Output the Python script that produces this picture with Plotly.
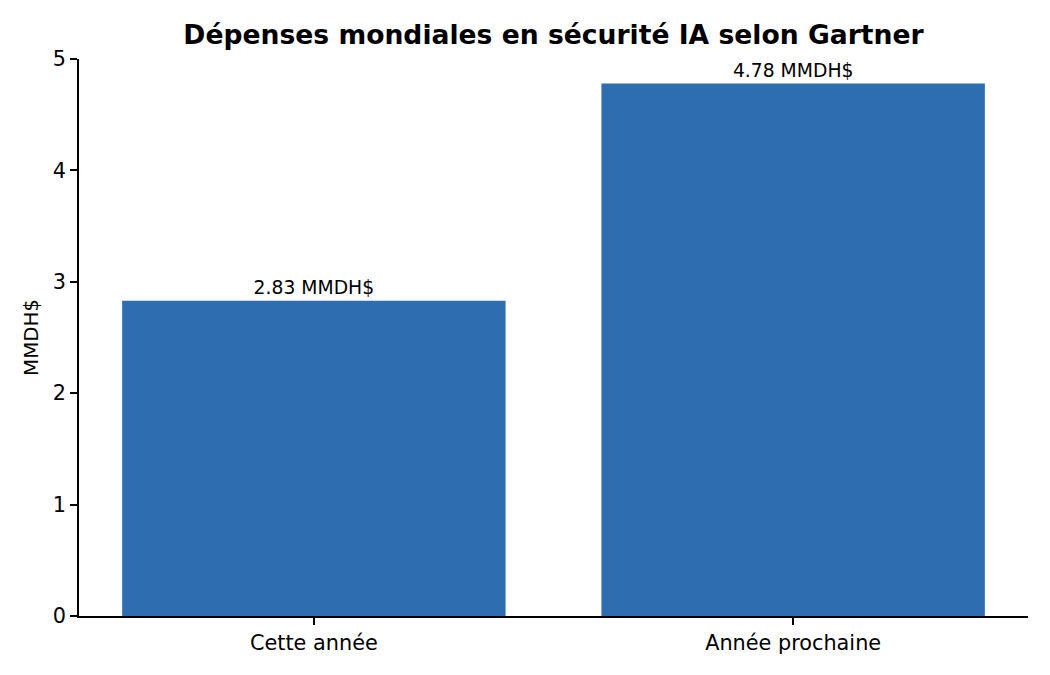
import plotly.graph_objects as go

categories = ['Cette année', 'Année prochaine']
values = [2.83, 4.78]
labels = ['2.83 MMDH$', '4.78 MMDH$']

FONT = 'DejaVu Sans'

fig = go.Figure(go.Bar(
    x=categories, y=values, text=labels,
    textposition='outside', cliponaxis=False,
    textfont=dict(family=FONT, size=18.75, color='black'),
    marker=dict(color='#2e6db0', line=dict(width=0)),
    width=0.8,
))

# page shows the figure offset by 8px, so margins are shifted to compensate
fig.update_layout(
    width=1050, height=675,
    plot_bgcolor='white', paper_bgcolor='white',
    margin=dict(l=71, r=30, t=51, b=67, autoexpand=False),
    font=dict(family=FONT, size=20.8, color='black'),
    title=dict(text='<b>Dépenses mondiales en sécurité IA selon Gartner</b>',
               x=0.5195, xanchor='center', y=0.96, yanchor='middle',
               font=dict(family=FONT, size=26.6, color='black')),
    showlegend=False,
)
fig.update_xaxes(range=[-0.49, 1.49], showline=True, linecolor='black', linewidth=1.5,
                 ticks='outside', ticklen=7, tickwidth=1.5, tickcolor='black',
                 showgrid=False, zeroline=False, automargin=False)
fig.update_yaxes(range=[0, 5], dtick=1, showline=True, linecolor='black', linewidth=1.5,
                 ticks='outside', ticklen=7, tickwidth=1.5, tickcolor='black',
                 showgrid=False, zeroline=False, automargin=False,
                 title=dict(text='MMDH$', standoff=9, font=dict(size=19.8)))

fig.write_html('out.html')
